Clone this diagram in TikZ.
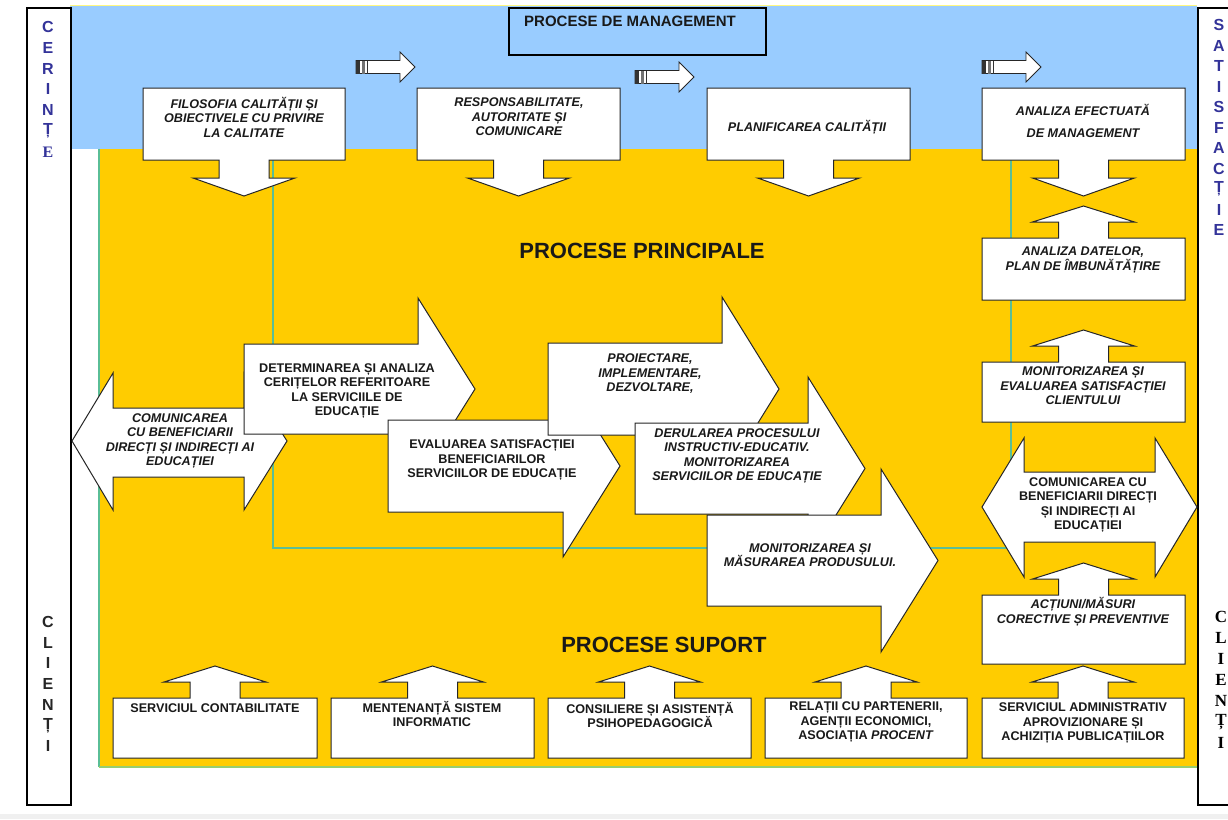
\documentclass[tikz,border=0pt]{standalone}
\usepackage{fontspec}
\setmainfont{Liberation Sans}
\newfontfamily\barserif{Liberation Serif}
\definecolor{skyb}{RGB}{153,204,255}
\definecolor{gold}{RGB}{255,204,0}
\definecolor{navyl}{RGB}{51,51,153}
\definecolor{grn}{RGB}{90,190,150}
\definecolor{grnb}{RGB}{150,205,110}
\tikzset{
  shp/.style={draw=black!85, fill=white, line width=1pt, line join=miter},
  lbl/.style={align=center, inner sep=0pt, text=black!90, font=\fontsize{12.6}{14.5}\selectfont\bfseries},
  ilbl/.style={lbl, font=\fontsize{12.6}{14.5}\selectfont\bfseries\itshape},
  biglbl/.style={lbl, font=\fontsize{22}{26}\selectfont\bfseries},
  barl/.style={inner sep=0pt, text=navyl, font=\fontsize{16}{16}\selectfont\bfseries},
  gline/.style={draw=grn, line width=1.1pt},
}
\newcommand\calloutdown[4]{%
  \pgfmathsetmacro\cx{(#1+#3)/2}%
  \draw[shp] (#1,#2) -- (#3,#2) -- (#3,#4) -- (\cx+25,#4) -- (\cx+25,#4+18) -- (\cx+51,#4+18) -- (\cx,#4+36) -- (\cx-51,#4+18) -- (\cx-25,#4+18) -- (\cx-25,#4) -- (#1,#4) -- cycle;}
\newcommand\calloutup[4]{%
  \pgfmathsetmacro\cx{(#1+#3)/2}%
  \draw[shp] (#1,#2) -- (\cx-25,#2) -- (\cx-25,#2-16) -- (\cx-51,#2-16) -- (\cx,#2-32) -- (\cx+51,#2-16) -- (\cx+25,#2-16) -- (\cx+25,#2) -- (#3,#2) -- (#3,#4) -- (#1,#4) -- cycle;}
\newcommand\rarrow[6]{%
  \pgfmathsetmacro\cy{(#2+#4)/2}%
  \draw[shp] (#1,#2) -- (#3,#2) -- (#3,#2-#6) -- (#5,\cy) -- (#3,#4+#6) -- (#3,#4) -- (#1,#4) -- cycle;}
\newcommand\sarrow[2]{%
  \draw[shp, line width=0.8pt] (#1,#2-6.5) -- (#1+44,#2-6.5) -- (#1+44,#2-15) -- (#1+59,#2) -- (#1+44,#2+15) -- (#1+44,#2+6.5) -- (#1,#2+6.5) -- cycle;
  \fill[black!80] (#1,#2-6.5) rectangle (#1+4,#2+6.5);
  \fill[black!55] (#1+6,#2-6.5) rectangle (#1+8.5,#2+6.5);
  \draw[black!80] (#1+11,#2-6.5) -- (#1+11,#2+6.5);}
\begin{document}
\begin{tikzpicture}[x=1pt,y=-1pt]
\useasboundingbox (0,0) rectangle (1228,819);
\fill[white] (0,0) rectangle (1228,819);
% backgrounds
\fill[skyb] (70,5) rectangle (1197,149);
\draw[yellow!50!white, line width=0.8pt] (70,5) -- (1197,5);
\fill[gold] (99,149) rectangle (1197,767);
\draw[gline] (99,149) -- (99,767);
\draw[grnb, line width=1.4pt] (99,767) -- (1197,767);
\draw[gline] (273,149) -- (273,548) -- (1011,548) -- (1011,149);
\fill[gray!12] (0,814) rectangle (1228,819);
% side bars
\draw[line width=2.5pt, fill=white] (27,8) rectangle (71,805);
\draw[line width=2.5pt, fill=white] (1198,8) rectangle (1250,805);
\foreach \l [count=\i] in {C,E,R,I,N,Ț} \node[barl] (lc\i) at (48,{27+(\i-1)*20.8}) {\l};
\node[barl, font=\fontsize{16}{16}\selectfont\barserif\bfseries] (lc7) at (48,152) {E};
\foreach \l [count=\i] in {C,L,I,E,N,Ț,I} \node[barl, text=black!85] (lb\i) at (48,{622+(\i-1)*20.7}) {\l};
\foreach \l [count=\i] in {S,A,T,I,S,F,A,C,Ț,I,E} \node[barl] (rs\i) at (1219,{25+(\i-1)*20.5}) {\l};
\foreach \l [count=\i] in {C,L,I,E,N,Ț,I} \node[barl, text=black, font=\fontsize{17}{17}\selectfont\barserif\bfseries] (rc\i) at (1221,{617+(\i-1)*21}) {\l};
% management title
\draw[line width=1.8pt] (509,8) rectangle (766,55);
\node[lbl, font=\fontsize{15}{18}\selectfont\bfseries] (pm) at (630,21) {PROCESE DE MANAGEMENT};
% small arrows
\sarrow{356}{67}
\sarrow{635}{77}
\sarrow{982}{67}
% top boxes
\calloutdown{143}{88}{345}{160}
\node[ilbl] (t1) at (244,117) {FILOSOFIA CALITĂȚII ȘI\\OBIECTIVELE CU PRIVIRE\\LA CALITATE};
\calloutdown{417}{88}{620}{160}
\node[ilbl] (t2) at (519,117) {RESPONSABILITATE,\\AUTORITATE ȘI\\COMUNICARE};
\calloutdown{707}{88}{910}{160}
\node[ilbl] (t3) at (807,127) {PLANIFICAREA CALITĂȚII};
\calloutdown{982}{88}{1185}{160}
\node[ilbl] (t4) at (1083,121) {ANALIZA EFECTUATĂ\\[8pt]DE MANAGEMENT};
% titles
\node[biglbl] (pp) at (642,251) {PROCESE PRINCIPALE};
\node[biglbl] (ps) at (664,645) {PROCESE SUPORT};
% middle arrows
\draw[shp] (72,441) -- (113,373) -- (113,408) -- (244,408) -- (244,373) -- (287,441) -- (244,510) -- (244,477) -- (113,477) -- (113,510) -- cycle;
\node[ilbl] (m2) at (180,441) {COMUNICAREA\\CU BENEFICIARII\\DIRECȚI ȘI INDIRECȚI AI\\EDUCAȚIEI};
\rarrow{244}{344}{418}{434}{475}{46}
\node[lbl] (m1) at (347,391) {DETERMINAREA ȘI ANALIZA\\CERIȚELOR REFERITOARE\\LA SERVICIILE DE\\EDUCAȚIE};
\rarrow{388}{420}{563}{512}{620}{45}
\node[lbl] (m3) at (492,460) {EVALUAREA SATISFACȚIEI\\BENEFICIARILOR\\SERVICIILOR DE EDUCAȚIE};
\rarrow{548}{343}{722}{435}{779}{46}
\node[ilbl] (m4) at (650,374) {PROIECTARE,\\IMPLEMENTARE,\\DEZVOLTARE,};
\rarrow{635}{423}{808}{514}{865}{46}
\node[ilbl] (m5) at (737,456) {DERULAREA PROCESULUI\\INSTRUCTIV-EDUCATIV.\\MONITORIZAREA\\SERVICIILOR DE EDUCAȚIE};
\rarrow{707}{515}{881}{606}{938}{46}
\node[ilbl] (m6) at (810,555) {MONITORIZAREA ȘI\\MĂSURAREA PRODUSULUI.};
% right column
\calloutup{982}{238}{1185}{300}
\node[ilbl] (r2) at (1083,260) {ANALIZA DATELOR,\\PLAN DE ÎMBUNĂTĂȚIRE};
\calloutup{982}{362}{1185}{422}
\node[ilbl] (r3) at (1083,386) {MONITORIZAREA ȘI\\EVALUAREA SATISFACȚIEI\\CLIENTULUI};
\draw[shp] (982,507) -- (1024,438) -- (1024,472) -- (1155,472) -- (1155,438) -- (1197,507) -- (1155,577) -- (1155,542) -- (1024,542) -- (1024,577) -- cycle;
\node[lbl] (r4) at (1088,505) {COMUNICAREA CU\\BENEFICIARII DIRECȚI\\ȘI INDIRECȚI AI\\EDUCAȚIEI};
\calloutup{982}{595}{1185}{664}
\node[ilbl] (r5) at (1083,612) {ACȚIUNI/MĂSURI\\CORECTIVE ȘI PREVENTIVE};
% bottom boxes
\calloutup{113}{698}{317}{758}
\node[lbl] (b1) at (215,708) {SERVICIUL CONTABILITATE};
\calloutup{331}{698}{534}{758}
\node[lbl] (b2) at (432,714) {MENTENANȚĂ SISTEM\\INFORMATIC};
\calloutup{548}{698}{751}{758}
\node[lbl] (b3) at (650,715) {CONSILIERE ȘI ASISTENȚĂ\\PSIHOPEDAGOGICĂ};
\calloutup{765}{698}{967}{758}
\node[lbl] (b4) at (866,722) {RELAȚII CU PARTENERII,\\AGENȚII ECONOMICI,\\ASOCIAȚIA \textit{PROCENT}};
\calloutup{982}{698}{1184}{758}
\node[lbl] (b5) at (1083,723) {SERVICIUL ADMINISTRATIV\\APROVIZIONARE ȘI\\ACHIZIȚIA PUBLICAȚIILOR};
\end{tikzpicture}
\end{document}
